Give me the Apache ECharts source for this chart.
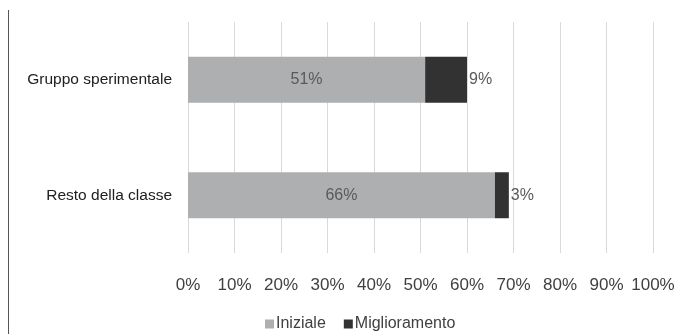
<!DOCTYPE html>
<html><head><meta charset="utf-8">
<script src="https://cdn.jsdelivr.net/npm/echarts@6/dist/echarts.min.js"></script>
<style>
html,body{margin:0;padding:0;background:#fff;}
#frame{position:absolute;left:8px;top:10px;width:1px;height:324px;background:#555;}
#c{position:absolute;left:0;top:0;width:685px;height:334px;}
</style></head>
<body>
<div id="c"></div>
<div id="frame"></div>
<script>
const categories = ['Resto della classe', 'Gruppo sperimentale'];
const iniziale = [66, 51];
const miglioramento = [3, 9];
const seriesNames = ['Iniziale', 'Miglioramento'];

const chart = echarts.init(document.getElementById('c'));
chart.setOption({
  animation: false,
  grid: { left: 188, right: 32, top: 22, bottom: 81, containLabel: false },
  legend: {
    data: seriesNames, bottom: -3, left: 260,
    itemWidth: 9, itemHeight: 9, itemGap: 18, icon: 'rect',
    textStyle: { fontFamily: 'Liberation Sans Narrow, Liberation Sans', fontSize: 16, color: '#404040', padding: [0,0,0,-3] }
  },
  xAxis: {
    type: 'value', min: 0, max: 100, interval: 10,
    axisLabel: { formatter: '{value}%', fontFamily: 'Liberation Sans', fontSize: 17, color: '#404040', margin: 24 },
    splitLine: { lineStyle: { color: '#d9d9d9', width: 1 } },
    axisLine: { show: false }, axisTick: { show: false }
  },
  yAxis: {
    type: 'category', data: categories,
    axisLabel: { fontFamily: 'Liberation Sans Narrow, Liberation Sans', fontSize: 15.5, color: '#202020', margin: 16 },
    axisLine: { show: false }, axisTick: { show: false }
  },
  series: [
    { name: seriesNames[0], type: 'bar', stack: 's', data: iniziale, barWidth: 46,
      itemStyle: { color: '#aeafb1' },
      label: { show: true, position: 'inside', formatter: '{c}%', fontFamily: 'Liberation Sans', fontSize: 16, color: '#595959' } },
    { name: seriesNames[1], type: 'bar', stack: 's', data: miglioramento, barWidth: 46,
      itemStyle: { color: '#333232' },
      label: { show: true, position: 'right', distance: 2, formatter: '{c}%', fontFamily: 'Liberation Sans', fontSize: 16, color: '#595959' } }
  ]
});
</script>
</body></html>
